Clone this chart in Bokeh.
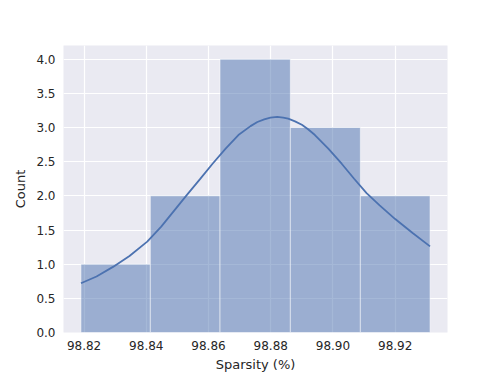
from bokeh.plotting import figure
from bokeh.models import Range1d, FixedTicker, PrintfTickFormatter
from bokeh.embed import file_html
from bokeh.resources import INLINE

# Histogram bins (Sparsity %) and counts
bin_edges = [98.8190, 98.8413, 98.8637, 98.8863, 98.9088, 98.9312]
counts = [1, 2, 4, 3, 2]

# KDE curve (scaled to counts)
kde_x = [98.8190, 98.8240, 98.8293, 98.8346, 98.8403, 98.8448, 98.8489, 98.8530,
         98.8572, 98.8613, 98.8655, 98.8696, 98.8735, 98.8757, 98.8779, 98.8799,
         98.8821, 98.8840, 98.8856, 98.8878, 98.8900, 98.8920, 98.8942, 98.8985,
         98.9028, 98.9068, 98.9108, 98.9150, 98.9200, 98.9256, 98.9312]
kde_y = [0.72, 0.82, 0.96, 1.12, 1.33, 1.55, 1.78, 2.01,
         2.24, 2.47, 2.69, 2.89, 3.02, 3.08, 3.12, 3.145,
         3.155, 3.145, 3.13, 3.09, 3.04, 2.975, 2.89, 2.69,
         2.47, 2.25, 2.04, 1.86, 1.66, 1.455, 1.26]

x_ticks = [98.82, 98.84, 98.86, 98.88, 98.90, 98.92]
y_ticks = [0.0, 0.5, 1.0, 1.5, 2.0, 2.5, 3.0, 3.5, 4.0]

span = bin_edges[-1] - bin_edges[0]
x_range = Range1d(bin_edges[0] - 0.05 * span, bin_edges[-1] + 0.05 * span)
y_range = Range1d(0, max(counts) * 1.05)

p = figure(width=490, height=374, x_range=x_range, y_range=y_range,
           output_backend="svg", toolbar_location=None,
           min_border_left=63, min_border_right=43, min_border_top=45, min_border_bottom=42)

p.background_fill_color = "#EAEAF2"
p.border_fill_color = "white"
p.outline_line_color = None

p.quad(left=bin_edges[:-1], right=bin_edges[1:], bottom=0, top=counts,
       fill_color="#4C72B0", fill_alpha=0.5, line_color="white", line_alpha=0.5, line_width=1)
p.line(kde_x, kde_y, line_color="#4C72B0", line_width=1.8)

for g in (p.xgrid, p.ygrid):
    g.grid_line_color = "white"
    g.grid_line_width = 1.2
p.xgrid.ticker = FixedTicker(ticks=x_ticks)
p.ygrid.ticker = FixedTicker(ticks=y_ticks)

p.xaxis.ticker = FixedTicker(ticks=x_ticks)
p.yaxis.ticker = FixedTicker(ticks=y_ticks)
p.xaxis.formatter = PrintfTickFormatter(format="%.2f")
p.yaxis.formatter = PrintfTickFormatter(format="%.1f")
p.xaxis.axis_label = "Sparsity (%)"
p.yaxis.axis_label = "Count"

for ax in (p.xaxis[0], p.yaxis[0]):
    ax.axis_line_color = None
    ax.major_tick_line_color = None
    ax.minor_tick_line_color = None
    ax.major_tick_out = 0
    ax.major_tick_in = 0
    ax.minor_tick_out = 0
    ax.minor_tick_in = 0
    ax.major_label_text_font = "DejaVu Sans"
    ax.major_label_text_font_size = "12px"
    ax.major_label_text_color = "#262626"
    ax.axis_label_text_font = "DejaVu Sans"
    ax.axis_label_text_font_size = "13px"
    ax.axis_label_text_font_style = "normal"
    ax.axis_label_text_color = "#262626"

p.xaxis.major_label_standoff = 8
p.xaxis.axis_label_standoff = 4
p.yaxis.major_label_standoff = 8
p.yaxis.axis_label_standoff = 5

open("out.html", "w").write(file_html(p, INLINE))
